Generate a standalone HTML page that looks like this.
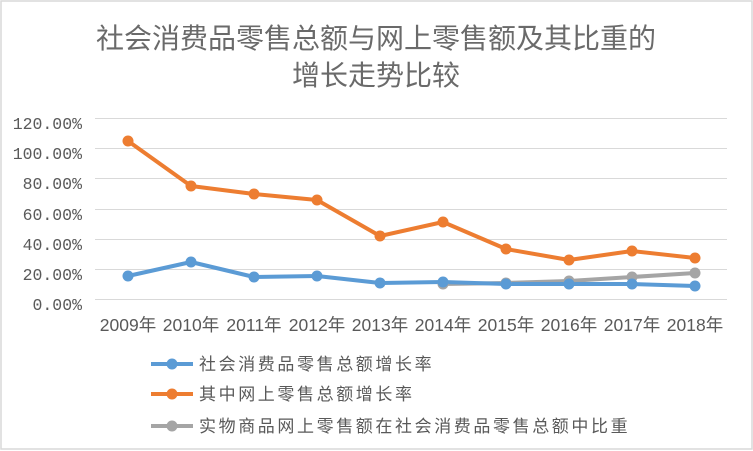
<!DOCTYPE html>
<html><head><meta charset="utf-8"><style>
html,body{margin:0;padding:0;background:#fff}
svg{display:block}
</style></head><body>
<svg width="753" height="451" xmlns="http://www.w3.org/2000/svg" font-family="'Liberation Sans','Noto Sans CJK SC',sans-serif">
<rect x="1" y="1" width="751" height="448" fill="#fff" stroke="#d9d9d9" stroke-width="1.5"/>
<text x="376" y="48" text-anchor="middle" font-size="28" fill="#6a6a6a">社会消费品零售总额与网上零售额及其比重的</text>
<text x="376" y="85" text-anchor="middle" font-size="28" fill="#6a6a6a">增长走势比较</text>
<g stroke="#d9d9d9" stroke-width="1">
<line x1="95" x2="727" y1="118.5" y2="118.5"/>
<line x1="95" x2="727" y1="148.5" y2="148.5"/>
<line x1="95" x2="727" y1="178.5" y2="178.5"/>
<line x1="95" x2="727" y1="209.5" y2="209.5"/>
<line x1="95" x2="727" y1="239.5" y2="239.5"/>
<line x1="95" x2="727" y1="269.5" y2="269.5"/>
<line x1="95" x2="727" y1="299.5" y2="299.5"/>
</g>
<g font-family="'Liberation Mono','Noto Sans CJK SC',monospace" font-size="16.5" fill="#595959" text-anchor="end">
<text x="82" y="129">120.00%</text>
<text x="82" y="159">100.00%</text>
<text x="82" y="189">80.00%</text>
<text x="82" y="220">60.00%</text>
<text x="82" y="250">40.00%</text>
<text x="82" y="280">20.00%</text>
<text x="82" y="310">0.00%</text>
</g>
<g font-size="17.5" fill="#595959" text-anchor="middle">
<text x="128" y="331">2009年</text>
<text x="191" y="331">2010年</text>
<text x="254" y="331">2011年</text>
<text x="317" y="331">2012年</text>
<text x="380" y="331">2013年</text>
<text x="443" y="331">2014年</text>
<text x="506" y="331">2015年</text>
<text x="569" y="331">2016年</text>
<text x="632" y="331">2017年</text>
<text x="695" y="331">2018年</text>
</g>
<g fill="none" stroke-width="4" stroke-linejoin="round">
<polyline stroke="#a5a5a5" points="443,284 506,283 569,281 632,277 695,273"/>
<polyline stroke="#5b9bd5" points="128,276 191,262 254,277 317,276 380,283 443,282 506,284 569,284 632,284 695,286"/>
<polyline stroke="#ed7d31" points="128,141 191,186 254,194 317,200 380,236 443,222 506,249 569,260 632,251 695,258"/>
</g>
<g fill="#a5a5a5"><circle cx="443" cy="284" r="5.5"/><circle cx="506" cy="283" r="5.5"/><circle cx="569" cy="281" r="5.5"/><circle cx="632" cy="277" r="5.5"/><circle cx="695" cy="273" r="5.5"/></g>
<g fill="#5b9bd5"><circle cx="128" cy="276" r="5.5"/><circle cx="191" cy="262" r="5.5"/><circle cx="254" cy="277" r="5.5"/><circle cx="317" cy="276" r="5.5"/><circle cx="380" cy="283" r="5.5"/><circle cx="443" cy="282" r="5.5"/><circle cx="506" cy="284" r="5.5"/><circle cx="569" cy="284" r="5.5"/><circle cx="632" cy="284" r="5.5"/><circle cx="695" cy="286" r="5.5"/></g>
<g fill="#ed7d31"><circle cx="128" cy="141" r="5.5"/><circle cx="191" cy="186" r="5.5"/><circle cx="254" cy="194" r="5.5"/><circle cx="317" cy="200" r="5.5"/><circle cx="380" cy="236" r="5.5"/><circle cx="443" cy="222" r="5.5"/><circle cx="506" cy="249" r="5.5"/><circle cx="569" cy="260" r="5.5"/><circle cx="632" cy="251" r="5.5"/><circle cx="695" cy="258" r="5.5"/></g>
<g stroke-width="4">
<line x1="151" x2="193" y1="364" y2="364" stroke="#5b9bd5"/><circle cx="172" cy="364" r="5.5" fill="#5b9bd5"/>
<line x1="151" x2="193" y1="394" y2="394" stroke="#ed7d31"/><circle cx="172" cy="394" r="5.5" fill="#ed7d31"/>
<line x1="151" x2="193" y1="426" y2="426" stroke="#a5a5a5"/><circle cx="172" cy="426" r="5.5" fill="#a5a5a5"/>
</g>
<g font-size="17" fill="#595959" letter-spacing="2.6">
<text x="199" y="370">社会消费品零售总额增长率</text>
<text x="199" y="400">其中网上零售总额增长率</text>
<text x="199" y="432">实物商品网上零售额在社会消费品零售总额中比重</text>
</g>
</svg>
</body></html>
